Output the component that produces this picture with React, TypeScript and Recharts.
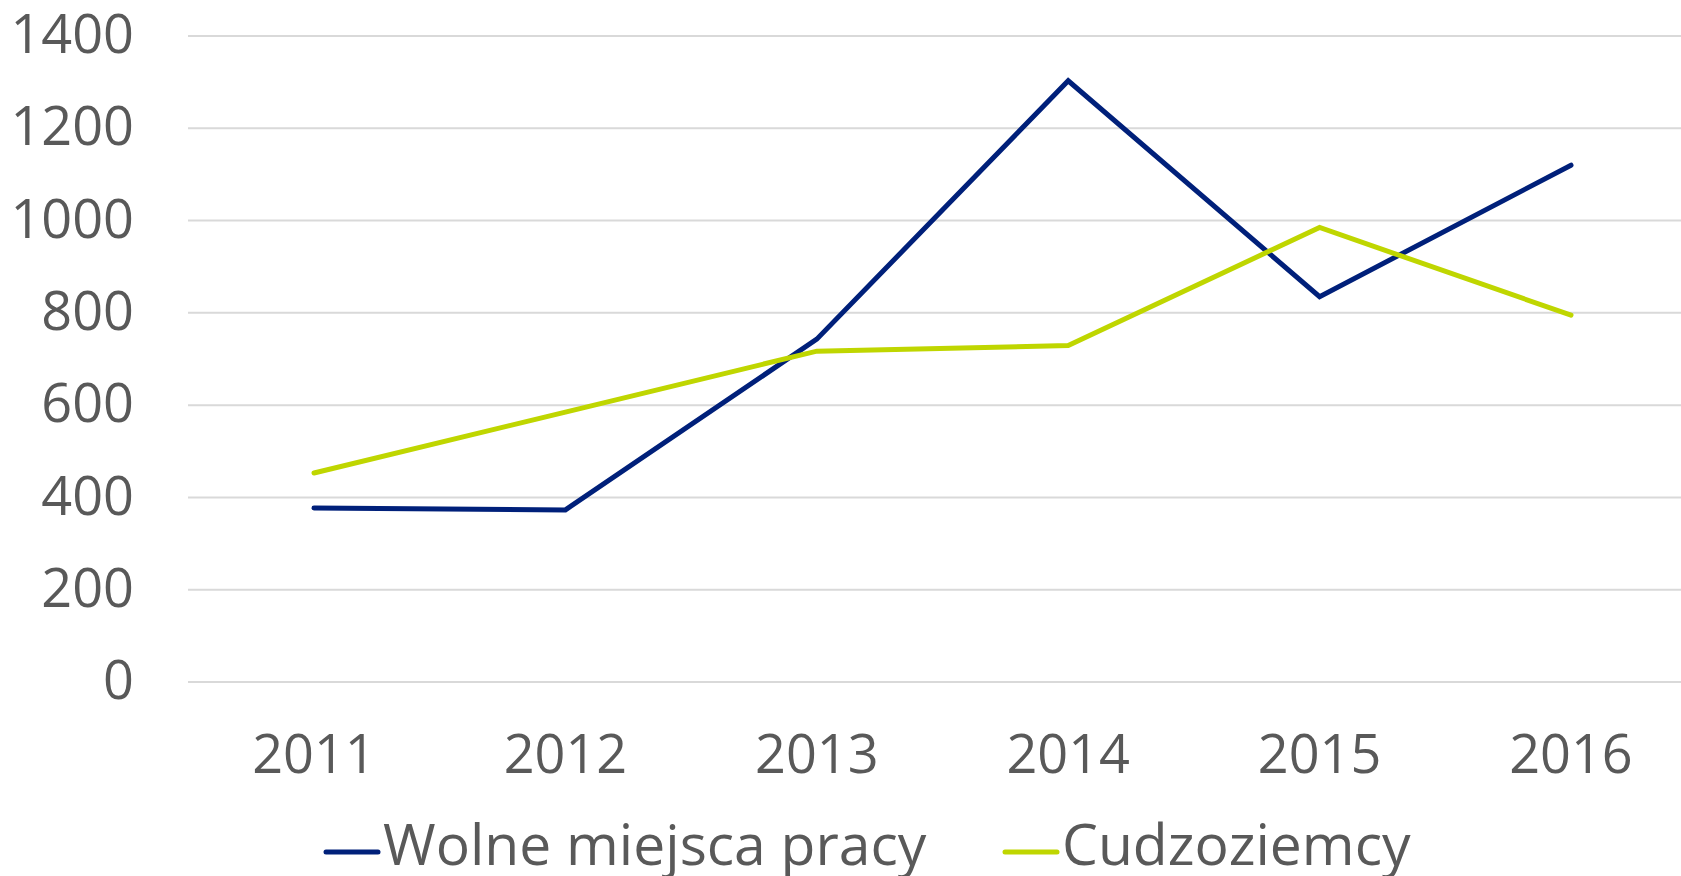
import React from 'react';
import { LineChart, Line, XAxis, YAxis, CartesianGrid, Legend } from 'recharts';

const years = ['2011', '2012', '2013', '2014', '2015', '2016'];
const wolneMiejsca = [377, 373, 743, 1303, 835, 1120];
const cudzoziemcy = [453, 585, 717, 729, 985, 795];
const yTicks = [0, 200, 400, 600, 800, 1000, 1200, 1400];
const seriesNames = ['Wolne miejsca pracy', 'Cudzoziemcy'];
const seriesColors = ['#00207a', '#bfd600'];

const data = years.map((y, i) => ({ year: y, a: wolneMiejsca[i], b: cudzoziemcy[i] }));

const FONT = '"Open Sans", "Noto Sans", sans-serif';
const TEXT_COLOR = '#595959';

const legendLefts = [323, 1002];

function LegendContent(props: any) {
  const payload = [...(props.payload || [])].sort(
    (p: any, q: any) => seriesNames.indexOf(p.value) - seriesNames.indexOf(q.value)
  );
  return (
    <div style={{ position: 'relative', width: 1700, height: 70 }}>
      {payload.map((p: any, i: number) => (
        <div
          key={p.value}
          style={{
            position: 'absolute',
            left: legendLefts[i],
            top: 0,
            display: 'flex',
            alignItems: 'flex-start',
            whiteSpace: 'nowrap',
          }}
        >
          <svg width={60} height={70} style={{ display: 'block' }}>
            <line x1={3} y1={44} x2={55} y2={44} stroke={p.color} strokeWidth={5} strokeLinecap="round" />
          </svg>
          <span
            style={{
              fontFamily: FONT,
              fontSize: 57,
              lineHeight: '70px',
              color: TEXT_COLOR,
              marginLeft: 0,
              display: 'block',
            }}
          >
            {p.value}
          </span>
        </div>
      ))}
    </div>
  );
}

export default function App() {
  return (
    <div style={{ position: 'absolute', left: 0, top: 0, width: 1681, height: 876, overflow: 'hidden', background: '#fff' }}>
      <LineChart width={1700} height={876} data={data} margin={{ top: 36, right: 4, left: 0, bottom: 94 }}>
        <CartesianGrid vertical={false} stroke="#d9d9d9" strokeWidth={2} />
        <XAxis
          dataKey="year"
          axisLine={false}
          tickLine={false}
          tickSize={0}
          tickMargin={53}
          height={100}
          padding={{ left: 126, right: 125 }}
          interval={0}
          tick={{ fontFamily: FONT, fontSize: 54, fill: TEXT_COLOR }}
        />
        <YAxis
          domain={[0, 1400]}
          ticks={yTicks}
          width={188}
          axisLine={false}
          tickLine={false}
          tickSize={0}
          tickMargin={54}
          interval={0}
          tick={{ fontFamily: FONT, fontSize: 54, fill: TEXT_COLOR, dy: -2 }}
        />
        <Legend
          layout="horizontal"
          verticalAlign="middle"
          align="center"
          wrapperStyle={{ left: 0, top: 808, width: 1700, height: 70 }}
          content={<LegendContent />}
        />
        <Line
          type="linear"
          dataKey="a"
          name={seriesNames[0]}
          stroke={seriesColors[0]}
          strokeWidth={5}
          strokeLinecap="round"
          dot={false}
          activeDot={false}
          isAnimationActive={false}
        />
        <Line
          type="linear"
          dataKey="b"
          name={seriesNames[1]}
          stroke={seriesColors[1]}
          strokeWidth={5}
          strokeLinecap="round"
          dot={false}
          activeDot={false}
          isAnimationActive={false}
        />
      </LineChart>
    </div>
  );
}
